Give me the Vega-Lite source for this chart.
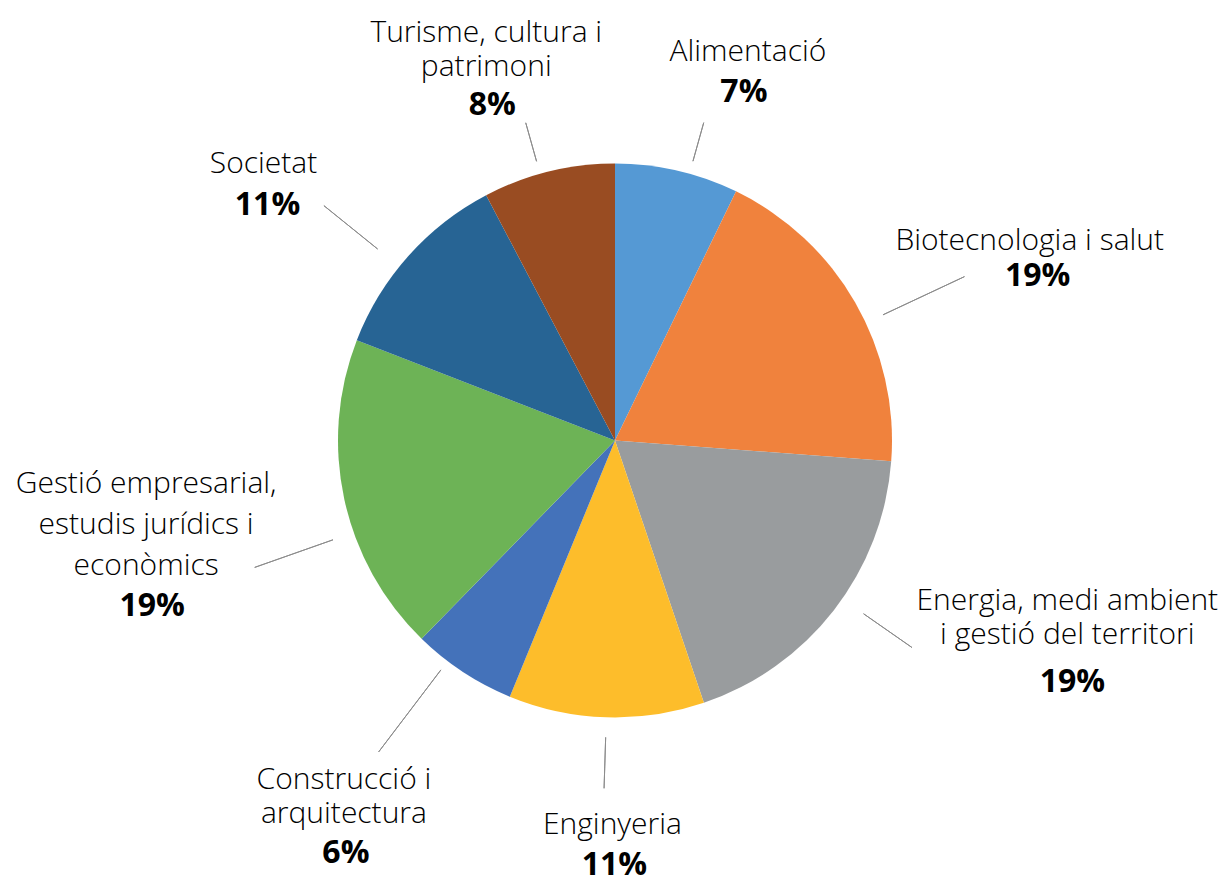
{
  "$schema": "https://vega.github.io/schema/vega-lite/v6.json",
  "width": 1218,
  "height": 869,
  "autosize": "none",
  "padding": {"left": 6, "top": 6, "right": 0, "bottom": 0},
  "background": "white",
  "config": {"view": {"stroke": null}},
  "data": {"values": [
    {"order": 1, "id": "ali", "name": "Alimentació", "label": "Alimentació", "share": 0.072},
    {"order": 2, "id": "bio", "name": "Biotecnologia i salut", "label": "Biotecnologia i salut", "share": 0.190},
    {"order": 3, "id": "ene", "name": "Energia, medi ambient i gestió del territori", "label": "Energia, medi ambient\ni gestió del territori", "share": 0.186},
    {"order": 4, "id": "eng", "name": "Enginyeria", "label": "Enginyeria", "share": 0.114},
    {"order": 5, "id": "con", "name": "Construcció i arquitectura", "label": "Construcció i\narquitectura", "share": 0.061},
    {"order": 6, "id": "ges", "name": "Gestió empresarial, estudis jurídics i econòmics", "label": "Gestió empresarial,\nestudis jurídics i\neconòmics", "share": 0.186},
    {"order": 7, "id": "soc", "name": "Societat", "label": "Societat", "share": 0.114},
    {"order": 8, "id": "tur", "name": "Turisme, cultura i patrimoni", "label": "Turisme, cultura i\npatrimoni", "share": 0.077}
  ]},
  "transform": [
    {"stack": "share", "groupby": [], "sort": [{"field": "order", "order": "ascending"}], "as": ["s0", "s1"]},
    {"calculate": "(datum.s0 + datum.s1) / 2", "as": "mid"}
  ],
  "layer": [
    {
      "mark": {"type": "arc", "radius": 277},
      "encoding": {
        "theta": {"field": "s0", "type": "quantitative", "stack": null, "scale": {"domain": [0, 1], "range": [0, 6.283185307179586]}},
        "theta2": {"field": "s1"},
        "color": {"field": "name", "type": "nominal", "legend": null,
          "scale": {
            "domain": ["Alimentació", "Biotecnologia i salut", "Energia, medi ambient i gestió del territori", "Enginyeria", "Construcció i arquitectura", "Gestió empresarial, estudis jurídics i econòmics", "Societat", "Turisme, cultura i patrimoni"],
            "range": ["#5599D4", "#F0823D", "#999C9E", "#FDBD2B", "#4472BA", "#6DB356", "#276494", "#994C22"]
          }}
      }
    },
    {
      "transform": [{"filter": "datum.id === 'ali'"}],
      "layer": [
        {"mark": {"type": "arc", "radius": 330, "radius2": 290, "thetaOffset": 0.046, "theta2Offset": 0.046, "filled": false, "stroke": "#8c8c8c", "strokeWidth": 1},
         "encoding": {"theta": {"field": "mid", "type": "quantitative", "stack": null}, "theta2": {"field": "mid"}}},
        {"mark": {"type": "text", "radius": 396.5, "dx": 44, "dy": 13, "align": "center", "baseline": "bottom", "lineBreak": "\n", "lineHeight": 34, "font": "Open Sans", "fontWeight": 300, "fontSize": 30, "color": "#000000"},
         "encoding": {"theta": {"field": "mid", "type": "quantitative", "stack": null}, "text": {"field": "label"}}},
        {"mark": {"type": "text", "radius": 396.5, "dx": 40, "dy": 23, "align": "center", "baseline": "top", "font": "Open Sans", "fontWeight": "bold", "fontSize": 32, "color": "#000000"},
         "encoding": {"theta": {"field": "mid", "type": "quantitative", "stack": null}, "text": {"field": "share", "format": ".0%"}}}
      ]
    },
    {
      "transform": [{"filter": "datum.id === 'bio'"}],
      "layer": [
        {"mark": {"type": "arc", "radius": 386, "radius2": 296, "thetaOffset": 0.083, "theta2Offset": 0.083, "filled": false, "stroke": "#8c8c8c", "strokeWidth": 1},
         "encoding": {"theta": {"field": "mid", "type": "quantitative", "stack": null}, "theta2": {"field": "mid"}}},
        {"mark": {"type": "text", "radius": 456.4, "dx": 19, "dy": 43, "align": "center", "baseline": "bottom", "lineBreak": "\n", "lineHeight": 34, "font": "Open Sans", "fontWeight": 300, "fontSize": 30, "color": "#000000"},
         "encoding": {"theta": {"field": "mid", "type": "quantitative", "stack": null}, "text": {"field": "label"}}},
        {"mark": {"type": "text", "radius": 456.4, "dx": 27, "dy": 48, "align": "center", "baseline": "top", "font": "Open Sans", "fontWeight": "bold", "fontSize": 32, "color": "#000000"},
         "encoding": {"theta": {"field": "mid", "type": "quantitative", "stack": null}, "text": {"field": "share", "format": ".0%"}}}
      ]
    },
    {
      "transform": [{"filter": "datum.id === 'ene'"}],
      "layer": [
        {"mark": {"type": "arc", "radius": 362, "radius2": 303, "thetaOffset": -0.051, "theta2Offset": -0.051, "filled": false, "stroke": "#8c8c8c", "strokeWidth": 1},
         "encoding": {"theta": {"field": "mid", "type": "quantitative", "stack": null}, "theta2": {"field": "mid"}}},
        {"mark": {"type": "text", "radius": 497.8, "dx": 59, "dy": -130, "align": "center", "baseline": "bottom", "lineBreak": "\n", "lineHeight": 34, "font": "Open Sans", "fontWeight": 300, "fontSize": 30, "color": "#000000"},
         "encoding": {"theta": {"field": "mid", "type": "quantitative", "stack": null}, "text": {"field": "label"}}},
        {"mark": {"type": "text", "radius": 497.8, "dx": 64, "dy": -79, "align": "center", "baseline": "top", "font": "Open Sans", "fontWeight": "bold", "fontSize": 32, "color": "#000000"},
         "encoding": {"theta": {"field": "mid", "type": "quantitative", "stack": null}, "text": {"field": "share", "format": ".0%"}}}
      ]
    },
    {
      "transform": [{"filter": "datum.id === 'eng'"}],
      "layer": [
        {"mark": {"type": "arc", "radius": 348, "radius2": 297, "thetaOffset": 0, "theta2Offset": 0, "filled": false, "stroke": "#8c8c8c", "strokeWidth": 1},
         "encoding": {"theta": {"field": "mid", "type": "quantitative", "stack": null}, "theta2": {"field": "mid"}}},
        {"mark": {"type": "text", "radius": 398.5, "dx": 10, "dy": 1, "align": "center", "baseline": "bottom", "lineBreak": "\n", "lineHeight": 34, "font": "Open Sans", "fontWeight": 300, "fontSize": 30, "color": "#000000"},
         "encoding": {"theta": {"field": "mid", "type": "quantitative", "stack": null}, "text": {"field": "label"}}},
        {"mark": {"type": "text", "radius": 398.5, "dx": 12, "dy": 11, "align": "center", "baseline": "top", "font": "Open Sans", "fontWeight": "bold", "fontSize": 32, "color": "#000000"},
         "encoding": {"theta": {"field": "mid", "type": "quantitative", "stack": null}, "text": {"field": "share", "format": ".0%"}}}
      ]
    },
    {
      "transform": [{"filter": "datum.id === 'con'"}],
      "layer": [
        {"mark": {"type": "arc", "radius": 391, "radius2": 288, "thetaOffset": 0.068, "theta2Offset": 0.068, "filled": false, "stroke": "#8c8c8c", "strokeWidth": 1},
         "encoding": {"theta": {"field": "mid", "type": "quantitative", "stack": null}, "theta2": {"field": "mid"}}},
        {"mark": {"type": "text", "radius": 473.7, "dx": -11, "dy": -41, "align": "center", "baseline": "bottom", "lineBreak": "\n", "lineHeight": 34, "font": "Open Sans", "fontWeight": 300, "fontSize": 30, "color": "#000000"},
         "encoding": {"theta": {"field": "mid", "type": "quantitative", "stack": null}, "text": {"field": "label"}}},
        {"mark": {"type": "text", "radius": 473.7, "dx": -9, "dy": 2, "align": "center", "baseline": "top", "font": "Open Sans", "fontWeight": "bold", "fontSize": 32, "color": "#000000"},
         "encoding": {"theta": {"field": "mid", "type": "quantitative", "stack": null}, "text": {"field": "share", "format": ".0%"}}}
      ]
    },
    {
      "transform": [{"filter": "datum.id === 'ges'"}],
      "layer": [
        {"mark": {"type": "arc", "radius": 382, "radius2": 299, "thetaOffset": -0.125, "theta2Offset": -0.125, "filled": false, "stroke": "#8c8c8c", "strokeWidth": 1},
         "encoding": {"theta": {"field": "mid", "type": "quantitative", "stack": null}, "theta2": {"field": "mid"}}},
        {"mark": {"type": "text", "radius": 489, "dx": 9, "dy": -45, "align": "center", "baseline": "bottom", "lineBreak": "\n", "lineHeight": 41, "font": "Open Sans", "fontWeight": 300, "fontSize": 30, "color": "#000000"},
         "encoding": {"theta": {"field": "mid", "type": "quantitative", "stack": null}, "text": {"field": "label"}}},
        {"mark": {"type": "text", "radius": 489, "dx": 15, "dy": 47, "align": "center", "baseline": "top", "font": "Open Sans", "fontWeight": "bold", "fontSize": 32, "color": "#000000"},
         "encoding": {"theta": {"field": "mid", "type": "quantitative", "stack": null}, "text": {"field": "share", "format": ".0%"}}}
      ]
    },
    {
      "transform": [{"filter": "datum.id === 'soc'"}],
      "layer": [
        {"mark": {"type": "arc", "radius": 374, "radius2": 305, "thetaOffset": -0.05, "theta2Offset": -0.05, "filled": false, "stroke": "#8c8c8c", "strokeWidth": 1},
         "encoding": {"theta": {"field": "mid", "type": "quantitative", "stack": null}, "theta2": {"field": "mid"}}},
        {"mark": {"type": "text", "radius": 437.7, "dx": -25, "dy": 30, "align": "center", "baseline": "bottom", "lineBreak": "\n", "lineHeight": 34, "font": "Open Sans", "fontWeight": 300, "fontSize": 30, "color": "#000000"},
         "encoding": {"theta": {"field": "mid", "type": "quantitative", "stack": null}, "text": {"field": "label"}}},
        {"mark": {"type": "text", "radius": 437.7, "dx": -21, "dy": 41, "align": "center", "baseline": "top", "font": "Open Sans", "fontWeight": "bold", "fontSize": 32, "color": "#000000"},
         "encoding": {"theta": {"field": "mid", "type": "quantitative", "stack": null}, "text": {"field": "share", "format": ".0%"}}}
      ]
    },
    {
      "transform": [{"filter": "datum.id === 'tur'"}],
      "layer": [
        {"mark": {"type": "arc", "radius": 330, "radius2": 290, "thetaOffset": -0.032, "theta2Offset": -0.032, "filled": false, "stroke": "#8c8c8c", "strokeWidth": 1},
         "encoding": {"theta": {"field": "mid", "type": "quantitative", "stack": null}, "theta2": {"field": "mid"}}},
        {"mark": {"type": "text", "radius": 382.9, "dx": -37, "dy": -21, "align": "center", "baseline": "bottom", "lineBreak": "\n", "lineHeight": 34, "font": "Open Sans", "fontWeight": 300, "fontSize": 30, "color": "#000000"},
         "encoding": {"theta": {"field": "mid", "type": "quantitative", "stack": null}, "text": {"field": "label"}}},
        {"mark": {"type": "text", "radius": 382.9, "dx": -31, "dy": 21, "align": "center", "baseline": "top", "font": "Open Sans", "fontWeight": "bold", "fontSize": 32, "color": "#000000"},
         "encoding": {"theta": {"field": "mid", "type": "quantitative", "stack": null}, "text": {"field": "share", "format": ".0%"}}}
      ]
    }
  ]
}
